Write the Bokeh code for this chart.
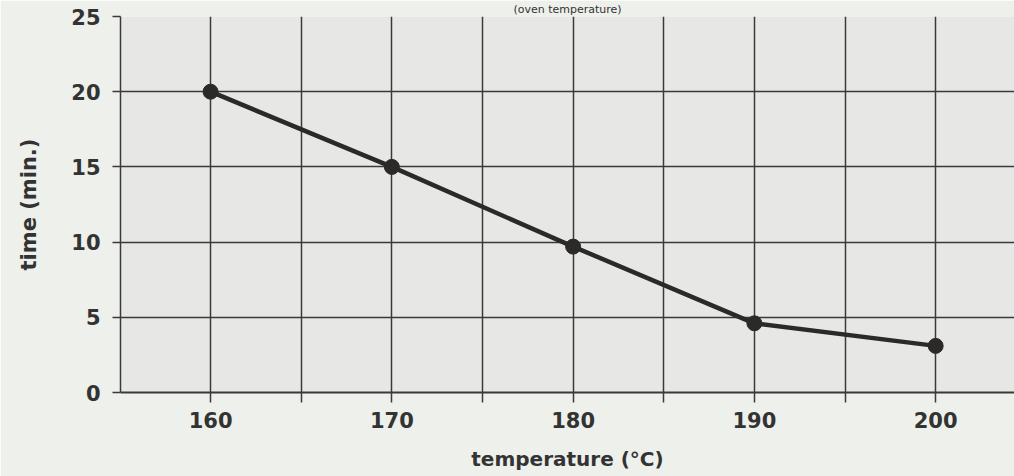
from bokeh.plotting import figure
from bokeh.models import FixedTicker, Range1d
from bokeh.embed import file_html
from bokeh.resources import INLINE

# data
temperature = [160, 170, 180, 190, 200]
time_min = [20.0, 15.0, 9.7, 4.6, 3.1]
x_ticks = [160, 165, 170, 175, 180, 185, 190, 195, 200]
x_tick_labels = {165: "", 175: "", 185: "", 195: ""}
y_ticks = [0, 5, 10, 15, 20, 25]
title_text = "(oven temperature)"
x_label = "temperature (°C)"
y_label = "time (min.)"

FONT = "DejaVu Sans"
TXT = "#333333"
LINE = "#3a3a3a"

W, H = 1014, 476
LEFT, TOP, BOTTOM = 120, 16, 84

p = figure(width=W, height=H, output_backend="svg", toolbar_location=None,
           x_range=Range1d(155.03, 204.35), y_range=Range1d(0, 25),
           min_border_left=LEFT, min_border_right=0, min_border_top=TOP, min_border_bottom=BOTTOM)
p.background_fill_color = "#e7e8e6"
p.border_fill_color = "#eef0ec"
p.outline_line_color = None

# caption at the top (cut off by the page edge in the reference)
p.title.text = title_text
p.title.align = "center"
p.title.text_font = FONT
p.title.text_font_style = "normal"
p.title.text_font_size = "11px"
p.title.text_color = TXT
p.title.standoff = 1

# grid
p.xgrid.ticker = FixedTicker(ticks=x_ticks)
p.ygrid.ticker = FixedTicker(ticks=y_ticks)
for g in (p.xgrid, p.ygrid):
    g.grid_line_color = LINE
    g.grid_line_width = 1.5
    g.grid_line_alpha = 1.0

# x axis
xa = p.xaxis[0]
xa.ticker = FixedTicker(ticks=x_ticks)
xa.major_label_overrides = x_tick_labels
xa.axis_line_color = LINE
xa.axis_line_width = 2
xa.major_tick_line_color = LINE
xa.major_tick_line_width = 1.5
xa.major_tick_in = 0
xa.major_tick_out = 10
xa.minor_tick_line_color = None
xa.major_label_text_font = FONT
xa.major_label_text_font_style = "bold"
xa.major_label_text_font_size = "21px"
xa.major_label_text_color = TXT
xa.major_label_standoff = 9
xa.axis_label = x_label
xa.axis_label_text_font = FONT
xa.axis_label_text_font_style = "bold"
xa.axis_label_text_font_size = "20px"
xa.axis_label_text_color = TXT
xa.axis_label_standoff = 16

# y axis
ya = p.yaxis[0]
ya.ticker = FixedTicker(ticks=y_ticks)
ya.axis_line_color = LINE
ya.axis_line_width = 1.5
ya.major_tick_line_color = LINE
ya.major_tick_line_width = 1.5
ya.major_tick_in = 0
ya.major_tick_out = 8
ya.minor_tick_line_color = None
ya.major_label_text_font = FONT
ya.major_label_text_font_style = "bold"
ya.major_label_text_font_size = "21px"
ya.major_label_text_color = TXT
ya.major_label_standoff = 12
ya.axis_label = y_label
ya.axis_label_text_font = FONT
ya.axis_label_text_font_style = "bold"
ya.axis_label_text_font_size = "21px"
ya.axis_label_text_color = TXT
ya.axis_label_standoff = 27

# data line and markers
p.line(temperature, time_min, line_color="#2b2a29", line_width=4.5)
p.scatter(temperature, time_min, size=15, fill_color="#2b2a29", line_color="#2b2a29")

open("out.html", "w").write(file_html(p, INLINE))
